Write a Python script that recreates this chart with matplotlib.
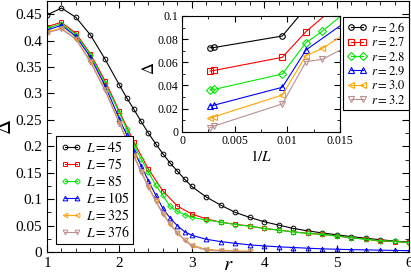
import numpy as np
import matplotlib
matplotlib.use("Agg")
import matplotlib.pyplot as plt
from matplotlib.ticker import MultipleLocator, FuncFormatter

plt.rcParams['font.family'] = ['Liberation Serif', 'DejaVu Serif']
plt.rcParams['mathtext.fontset'] = 'stix'

# ---------------- data ----------------
r_fine = [1.0, 1.2, 1.4, 1.6, 1.8, 2.0, 2.1, 2.2, 2.3, 2.4, 2.5, 2.6, 2.7, 2.8, 2.9, 3.0,
          3.2, 3.4, 3.6, 3.8, 4.0, 4.2, 4.4, 4.6, 4.8, 5.0, 5.2, 5.4, 5.6, 5.8, 6.0]
r_coarse = [1.0, 1.2, 1.4, 1.6, 1.8, 2.0, 2.2, 2.4, 2.6, 2.8, 3.0, 3.2, 3.4, 3.6, 3.8,
            4.0, 4.2, 4.4, 4.6, 4.8, 5.0, 5.2, 5.4, 5.6, 5.8, 6.0]
r_short = [1.0, 1.2, 1.4, 1.6, 1.8, 2.0, 2.1, 2.2, 2.3, 2.4, 2.5, 2.6, 2.7, 2.8, 2.9, 3.0,
           3.2, 3.4, 3.6, 3.8]

d45 = [0.4485, 0.4617, 0.444, 0.4107, 0.3654, 0.316, 0.292, 0.270, 0.247, 0.225, 0.205,
       0.186, 0.1685, 0.153, 0.138, 0.124, 0.104, 0.0887, 0.0749, 0.0655, 0.0572, 0.0509,
       0.0447, 0.0400, 0.0362, 0.0326, 0.0292, 0.0260, 0.0233, 0.0207, 0.0187]
d75 = [0.4264, 0.4346, 0.4138, 0.375, 0.3245, 0.266, 0.208, 0.157, 0.1157, 0.087, 0.072,
       0.0626, 0.0563, 0.0525, 0.049, 0.0447, 0.0415, 0.0383, 0.0352, 0.0334, 0.0302,
       0.027, 0.0245, 0.0205, 0.0198, 0.018]
d85 = [0.424, 0.4315, 0.4113, 0.373, 0.320, 0.2635, 0.233, 0.203, 0.176, 0.151, 0.127,
       0.107, 0.0864, 0.0769, 0.0706, 0.0657, 0.0605, 0.0565, 0.052, 0.0488, 0.0445,
       0.0413, 0.038, 0.0352, 0.0334, 0.0302, 0.027, 0.024, 0.0214, 0.0202, 0.0176]
d105 = [0.420, 0.429, 0.408, 0.3685, 0.315, 0.252, 0.222, 0.192, 0.163, 0.135, 0.108,
        0.0827, 0.0643, 0.0499, 0.0384, 0.0317, 0.024, 0.0197, 0.0164, 0.0135, 0.0115,
        0.0098, 0.0085, 0.0072, 0.006, 0.0052, 0.0045, 0.004, 0.0035, 0.003, 0.0026]
d325 = [0.4165, 0.4235, 0.4035, 0.361, 0.308, 0.245, 0.214, 0.183, 0.153, 0.125, 0.098,
        0.0728, 0.053, 0.0366, 0.023, 0.013, 0.005, 0.003, 0.002, 0.0015]
d376 = [0.415, 0.422, 0.4025, 0.359, 0.306, 0.243, 0.212, 0.181, 0.151, 0.123, 0.096,
        0.0726, 0.0525, 0.036, 0.0225, 0.0116, 0.0035, 0.002, 0.0013, 0.001]

L_values = [45, 75, 85, 105, 325, 376]
series_r = [r_fine, r_coarse, r_fine, r_fine, r_short, r_short]
series_d = [d45, d75, d85, d105, d325, d376]

inset_r = [2.6, 2.7, 2.8, 2.9, 3.0, 3.2]

colors = ['black', 'red', '#00e800', 'blue', 'orange', '#bc8f8f']
markers = ['o', 's', 'D', '^', '<', 'v']
msizes = [3.4, 3.2, 2.8, 3.4, 3.4, 3.4]

fig = plt.figure(figsize=(4.11, 2.80), dpi=100)
ax = fig.add_axes([47/411, 1-252/280, 362/411, 251/280])

for L, rr, dd, c, m, ms in zip(L_values, series_r, series_d, colors, markers, msizes):
    ax.plot(rr, dd, color=c, marker=m, ms=ms, mfc='none', mec=c, mew=0.7, lw=0.8,
            label=r'$L = %d$' % L)

ax.set_xlim(1, 6)
ax.set_ylim(0, 0.475)
ax.xaxis.set_major_locator(MultipleLocator(1))
ax.xaxis.set_minor_locator(MultipleLocator(0.2))
ax.yaxis.set_major_locator(MultipleLocator(0.05))
ax.yaxis.set_minor_locator(MultipleLocator(0.025))
fmt = FuncFormatter(lambda v, p: '%g' % round(v, 6))
ax.xaxis.set_major_formatter(fmt)
ax.yaxis.set_major_formatter(fmt)
ax.tick_params(which='both', direction='in', top=True, right=True, labelsize=11)
ax.tick_params(which='major', length=5)
ax.tick_params(which='minor', length=3)
ax.set_xlabel(r'$r$', fontsize=15)
ax.xaxis.label.set_va('center')
ax.xaxis.set_label_coords(0.5, (252 - 266) / 251)
ax.set_ylabel(r'$\Delta$', fontsize=15)
ax.yaxis.set_label_coords((16 - 47) / 362, 0.5)

leg = ax.legend(loc='lower left', bbox_to_anchor=(0.026, 0.03), borderaxespad=0,
                fontsize=10, numpoints=2, handlelength=1.5, handletextpad=0.3,
                labelspacing=0.15, borderpad=0.3, fancybox=False, framealpha=1)
leg.get_frame().set_edgecolor('black')
leg.get_frame().set_linewidth(0.8)

# ---------------- inset ----------------
axi = fig.add_axes([182/411, 1-131.7/280, 158/411, 115.7/280])
for r0, c, m in zip(inset_r, colors, markers):
    xs, ys = [], []
    for L, rr, dd in sorted(zip(L_values, series_r, series_d), key=lambda t: -t[0]):
        for rv, dv in zip(rr, dd):
            if abs(rv - r0) < 1e-9:
                xs.append(1.0 / L)
                ys.append(dv)
    axi.plot(xs, ys, color=c, marker=m, ms=4.0, mfc='none', mec=c, mew=0.8, lw=0.8,
             label=r'$r = %.1f$' % r0)
axi.set_xlim(0, 0.015)
axi.set_ylim(0, 0.1)
axi.xaxis.set_major_locator(MultipleLocator(0.005))
axi.xaxis.set_minor_locator(MultipleLocator(0.0025))
axi.yaxis.set_major_locator(MultipleLocator(0.02))
axi.yaxis.set_minor_locator(MultipleLocator(0.01))
axi.xaxis.set_major_formatter(fmt)
axi.yaxis.set_major_formatter(fmt)
axi.tick_params(which='both', direction='in', top=True, right=True, labelsize=8.5)
axi.tick_params(which='major', length=4, pad=2.5)
axi.tick_params(which='minor', length=2.5)
axi.set_xlabel(r'$1/L$', fontsize=11, labelpad=1)
axi.set_ylabel(r'$\Delta$', fontsize=12)
axi.yaxis.set_label_coords((158 - 182) / 158, 0.55)

h, l = axi.get_legend_handles_labels()
leg2 = fig.legend(h, l, loc='upper left', bbox_to_anchor=(343/411, 1-17/280),
                  bbox_transform=fig.transFigure, borderaxespad=0,
                  fontsize=9, numpoints=2, handlelength=1.6, handletextpad=0.3,
                  labelspacing=0.12, borderpad=0.3, fancybox=False, framealpha=1)
leg2.get_frame().set_edgecolor('black')
leg2.get_frame().set_linewidth(0.8)

fig.savefig('out.png', dpi=100)
